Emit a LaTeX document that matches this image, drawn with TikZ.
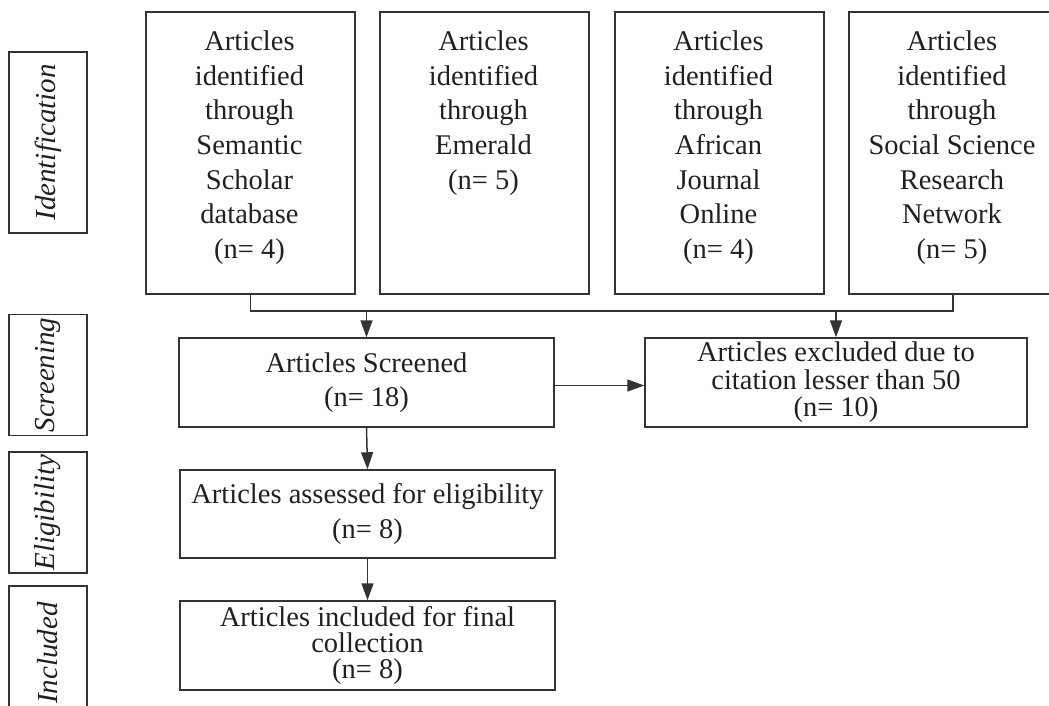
\documentclass[tikz,border=0pt]{standalone}
\usepackage{fontspec}
\setmainfont{Liberation Serif}
\usetikzlibrary{arrows.meta}
\definecolor{linec}{HTML}{333333}
\definecolor{txtc}{HTML}{231F20}
\begin{document}
\begin{tikzpicture}[x=1pt,y=-1pt,
  box/.style={draw=linec, line width=1.5pt, inner sep=0pt},
  txt/.style={inner sep=0pt, align=center, text=txtc, font=\fontsize{28.5}{34.7}\selectfont},
  side/.style={box, minimum width=78pt, text=txtc, font=\fontsize{29}{33}\selectfont\itshape},
  conn/.style={draw=linec, line width=1.5pt},
  arr/.style={conn, -{Triangle[length=17pt,width=12pt]}}
]
\useasboundingbox (0,0) rectangle (1049,705);

% side labels
\node[side, minimum height=181pt] (lid) at (48,142.5) {\rotatebox{90}{Identification}};
\node[side, minimum height=121pt] (lsc) at (48,375) {\rotatebox{90}{Screening}};
\node[side, minimum height=121pt] (lel) at (48,512.5) {\rotatebox{90}{Eligibility}};
\node[side, minimum height=134pt] (lin) at (48,653) {\rotatebox{90}{Included}};

% top boxes
\node[box, anchor=north west, minimum width=209pt, minimum height=282pt] (s1) at (145,11) {};
\node[box, anchor=north west, minimum width=209pt, minimum height=282pt] (s2) at (379,11) {};
\node[box, anchor=north west, minimum width=209pt, minimum height=282pt] (s3) at (614,11) {};
\node[box, anchor=north west, minimum width=208pt, minimum height=282pt] (s4) at (848,11) {};

\node[txt, anchor=north] (t1) at (249.5,30.5) {Articles\\identified\\through\\Semantic\\Scholar\\database\\(n= 4)};
\node[txt, anchor=north] (t2) at (483.5,30.5) {Articles\\identified\\through\\Emerald\\(n= 5)};
\node[txt, anchor=north] (t3) at (718.5,30.5) {Articles\\identified\\through\\African\\Journal\\Online\\(n= 4)};
\node[txt, anchor=north] (t4) at (952,30.5) {Articles\\identified\\through\\Social Science\\Research\\Network\\(n= 5)};

% lower boxes
\node[box, minimum width=375pt, minimum height=89pt, txt] (scr) at (366.5,382.5) {Articles Screened\\(n= 18)};
\node[box, minimum width=382pt, minimum height=89pt, txt, font=\fontsize{28.5}{27.5}\selectfont] (exc) at (836,382.5) {Articles excluded due to\\citation lesser than 50\\(n= 10)};
\node[box, minimum width=375pt, minimum height=88pt, txt] (ass) at (367.5,514) {Articles assessed for eligibility\\(n= 8)};
\node[box, minimum width=375pt, minimum height=89pt, txt, font=\fontsize{28.5}{26}\selectfont] (fin) at (367.5,645.5) {Articles included for final\\collection\\(n= 8)};

% connectors
\coordinate (hl) at (0,311);
\draw[conn] (s1.south) |- (s4.south |- hl) -- (s4.south);
\draw[arr] (scr.north |- hl) -- (scr.north);
\draw[arr] (exc.north |- hl) -- (exc.north);
\draw[arr] ([yshift=-3pt]scr.east) -- ([yshift=-3pt]exc.west);
\draw[arr] (scr.south) -- (ass.north);
\draw[arr] (ass.south) -- (fin.north);
\end{tikzpicture}
\end{document}
